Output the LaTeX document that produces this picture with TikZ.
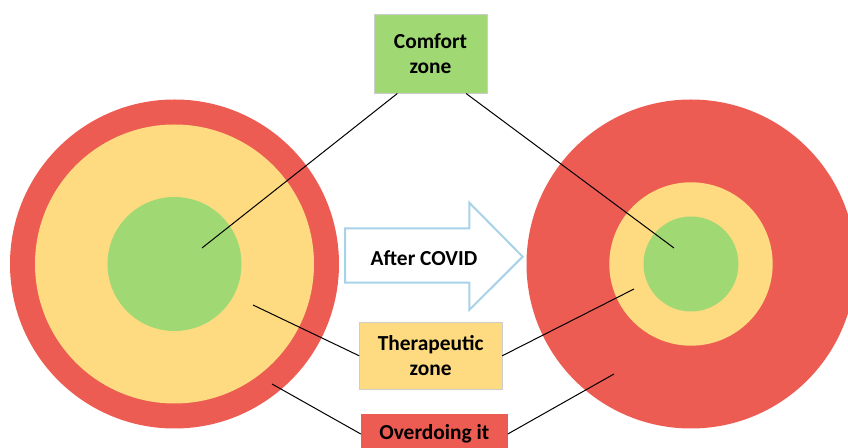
\documentclass[tikz,border=0pt]{standalone}
\usepackage{fontspec}
\setmainfont{Carlito}
\usepackage{xcolor}
\usepackage{tikz}
\usetikzlibrary{calc}
\definecolor{redzone}{RGB}{237,92,83}
\definecolor{yellowzone}{RGB}{254,219,128}
\definecolor{greenzone}{RGB}{160,217,116}
\definecolor{arrowline}{RGB}{168,210,232}
\definecolor{boxline}{RGB}{205,205,205}
\tikzset{
  lbl/.style={font=\fontsize{10.7}{12.6}\selectfont\bfseries, align=center, inner sep=0pt, outer sep=0pt,
    draw=boxline, line width=0.4pt, text=black},
  lead/.style={draw=black, line width=0.5pt},
  bigarrow/.style={draw=arrowline, fill=white, line width=1pt, line join=miter}
}
\begin{document}
\begin{tikzpicture}[x=0.5pt,y=-0.5pt]
  \useasboundingbox (0,0) rectangle (848,448);
  \clip (0,0) rectangle (848,448);

  % before: wide therapeutic band
  \coordinate (B) at (174.5,264);
  \fill[redzone] (B) circle (164.5);
  \fill[yellowzone] (B) circle (139.5);
  \fill[greenzone] (B) circle (67);

  % after: mostly overdoing it
  \coordinate (A) at (691,264);
  \fill[redzone] (A) circle (164.5);
  \fill[yellowzone] (A) circle (81.7);
  \fill[greenzone] (A) circle (47.5);

  \draw[bigarrow] (345,228.3) -- (469.3,228.3) -- (469.3,202.7) -- (522.7,256.7)
    -- (469.3,310) -- (469.3,282.7) -- (345,282.7) -- cycle;
  \node[font=\fontsize{10.7}{12.6}\selectfont\bfseries] (covid) at (424,258) {After COVID};

  \node[lbl, fill=greenzone, minimum width=56.5pt, minimum height=39.5pt] (comfort) at (430.5,54) {Comfort\\zone};
  \node[lbl, fill=yellowzone, minimum width=71.5pt, minimum height=33.5pt] (thera) at (430.7,355.8) {Therapeutic\\zone};
  \node[lbl, fill=redzone, draw=none, minimum width=73.5pt, minimum height=20pt] (over) at (434.3,434) {Overdoing it};

  \coordinate (bc) at (202,248);
  \coordinate (bt) at (253,305);
  \coordinate (bo) at (272,384);
  \coordinate (ac) at (674,248);
  \coordinate (at) at (634,289);
  \coordinate (ao) at (614,374);

  \draw[lead] (bc) -- (comfort.230);
  \draw[lead] (ac) -- (comfort.-48);
  \draw[lead] (bt) -- (thera.west);
  \draw[lead] (at) -- (thera.east);
  \draw[lead] (bo) -- (over.west);
  \draw[lead] (ao) -- (over.east);
\end{tikzpicture}
\end{document}
